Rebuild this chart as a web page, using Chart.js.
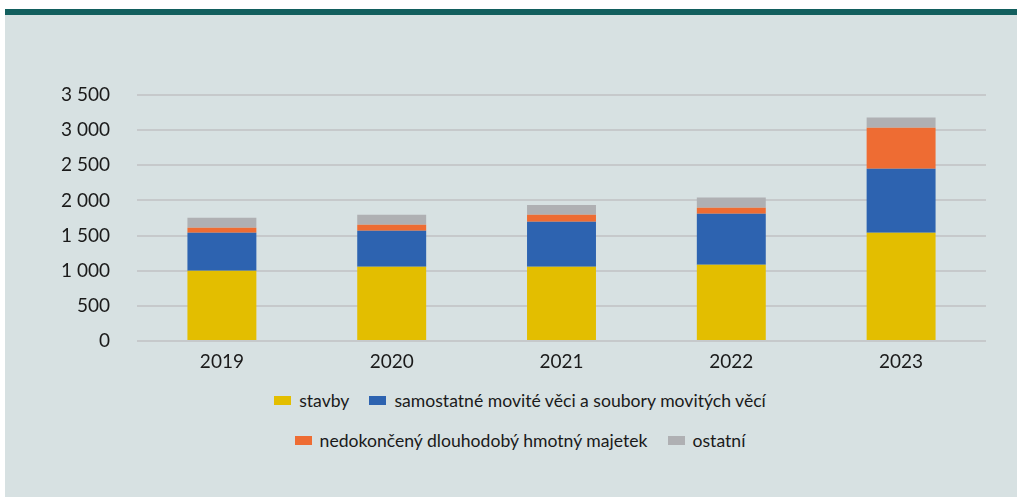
<!DOCTYPE html>
<html lang="cs">
<head>
<meta charset="utf-8">
<script src="https://cdn.jsdelivr.net/npm/chart.js@4"></script>
<style>
  html, body { margin: 0; padding: 0; background: #ffffff; }
  body { width: 1017px; height: 497px; position: relative; overflow: hidden; font-family: Lato, "Noto Sans", sans-serif; }
  .panel { position: absolute; left: 5px; top: 9px; right: 0; bottom: 0; background: #d7e1e2; border-top: 6px solid #125f5e; }
  .chart-wrap { position: absolute; left: 0; top: 0; width: 1017px; height: 380px; }
  .legend { position: absolute; left: 0; width: 1040px; top: 380px; color: #1a1a1a; font-size: 17.6px; }
  .legend .row { display: flex; justify-content: center; height: 40px; align-items: center; }
  .legend .item { display: flex; align-items: center; margin: 0 10px; }
  .legend .box { width: 17px; height: 9px; margin-right: 8px; }
</style>
</head>
<body>
<div class="panel"></div>
<div class="chart-wrap"><canvas id="chart"></canvas></div>
<div class="legend" id="legend"></div>
<script>
const years = ["2019", "2020", "2021", "2022", "2023"];
const seriesNames = [
  "stavby",
  "samostatné movité věci a soubory movitých věcí",
  "nedokončený dlouhodobý hmotný majetek",
  "ostatní",
];
const stavby = [1000, 1055, 1055, 1085, 1540];
const movite = [540, 515, 640, 725, 910];
const nedokonceny = [70, 85, 100, 85, 585];
const ostatni = [145, 140, 140, 145, 145];
const yTicks = [0, 500, 1000, 1500, 2000, 2500, 3000, 3500];
const colors = ["#e3be00", "#2d63b0", "#ee6c33", "#afb0b3"];
const legendRows = [[0, 1], [2, 3]];

function fmtNum(n) {
  return String(n).replace(/\B(?=(\d{3})+(?!\d))/g, " ");
}

const values = [stavby, movite, nedokonceny, ostatni];
const datasets = seriesNames.map((name, i) => ({
  label: name,
  data: values[i],
  backgroundColor: colors[i],
  borderWidth: 0,
  barPercentage: 0.406,
  categoryPercentage: 1,
}));

new Chart(document.getElementById("chart"), {
  type: "bar",
  data: { labels: years, datasets },
  options: {
    responsive: true,
    maintainAspectRatio: false,
    animation: false,
    layout: { padding: { top: 95, right: 31, left: 0, bottom: 0 } },
    plugins: { legend: { display: false }, tooltip: { enabled: false } },
    scales: {
      x: {
        stacked: true,
        grid: { display: false, drawTicks: false },
        border: { display: false },
        ticks: { color: "#1a1a1a", padding: 9, font: { family: "Lato", size: 19 } },
        afterFit(scale) { scale.height = 39; },
      },
      y: {
        stacked: true,
        min: 0,
        max: 3500,
        afterBuildTicks(scale) { scale.ticks = yTicks.map((v) => ({ value: v })); },
        grid: { color: "#c6c9cb", lineWidth: 2, drawTicks: false },
        border: { display: false },
        ticks: {
          color: "#1a1a1a",
          padding: 27,
          font: { family: "Lato", size: 19 },
          callback: (v) => fmtNum(v),
        },
        afterFit(scale) { scale.width = 137; },
      },
    },
  },
});

// legend in two rows, like the original
const legendEl = document.getElementById("legend");
legendRows.forEach((row) => {
  const rowEl = document.createElement("div");
  rowEl.className = "row";
  row.forEach((i) => {
    const item = document.createElement("div");
    item.className = "item";
    item.innerHTML = `<span class="box" style="background:${colors[i]}"></span><span></span>`;
    item.lastChild.textContent = seriesNames[i];
    rowEl.appendChild(item);
  });
  legendEl.appendChild(rowEl);
});
</script>
</body>
</html>
